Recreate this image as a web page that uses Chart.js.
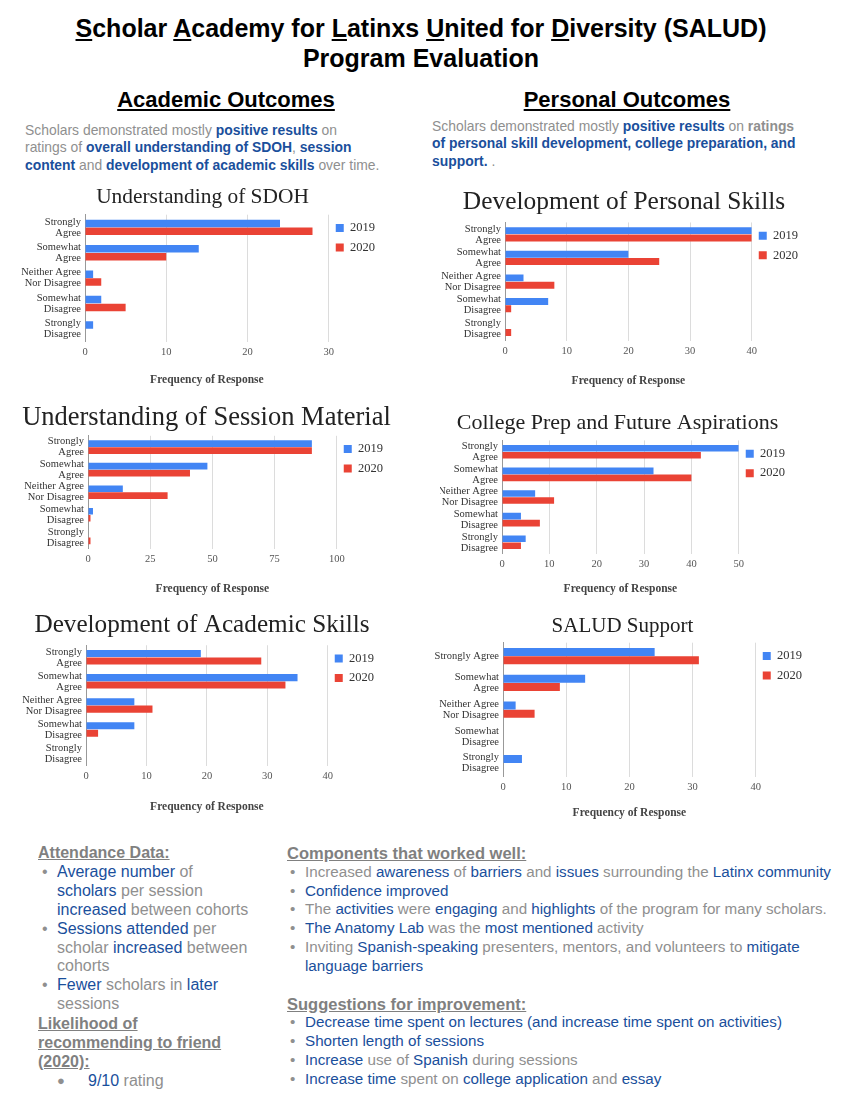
<!DOCTYPE html>
<html>
<head>
<meta charset="utf-8">
<script src="https://cdn.jsdelivr.net/npm/chart.js@4.4.1/dist/chart.umd.min.js"></script>
<style>
  body { margin: 0; background: #fff; }
  #page { position: relative; width: 850px; height: 1100px; overflow: hidden; font-family: "Liberation Sans", Arial, sans-serif; }
  .abs { position: absolute; }
  .b { color: #1a4f9c; }
  .g { color: #8f8f8f; }
  .bold { font-weight: bold; }
  canvas { position: absolute; }
  .head { font-weight: bold; text-decoration: underline; text-decoration-thickness: 2px; text-underline-offset: 2px; color: #000; }
  .sub { font-weight: bold; text-decoration: underline; color: #808080; }
  .dot { position: absolute; color: #8f8f8f; }
  .item { position: relative; padding-left: 18px; }
</style>
</head>
<body>
<div id="page">

  <div class="abs" style="left:-4px; top:13px; width:850px; text-align:center; font-size:25px; line-height:30px; font-weight:bold; color:#000;">
    <u>S</u>cholar <u>A</u>cademy for <u>L</u>atinxs <u>U</u>nited for <u>D</u>iversity (SALUD)<br>Program Evaluation
  </div>

  <div class="abs head" style="left:26px; top:87px; width:400px; text-align:center; font-size:22px; line-height:26px;">Academic Outcomes</div>
  <div class="abs head" style="left:427px; top:87px; width:400px; text-align:center; font-size:22px; line-height:26px;">Personal Outcomes</div>

  <div class="abs g" style="left:25px; top:122px; font-size:13.9px; line-height:17.3px;">
    Scholars demonstrated mostly <span class="b bold">positive results</span> on<br>
    ratings of <span class="b bold">overall understanding of SDOH</span>, <span class="b bold">session</span><br>
    <span class="b bold">content</span> and <span class="b bold">development of academic skills</span> over time.
  </div>
  <div class="abs g" style="left:432px; top:118px; font-size:13.9px; line-height:17.3px;">
    Scholars demonstrated mostly <span class="b bold">positive results</span> on <span class="bold">ratings</span><br>
    <span class="b bold">of personal skill development, college preparation, and</span><br>
    <span class="b bold">support.</span> .
  </div>

  <canvas id="c1" width="365" height="208" style="left:20px; top:183px;"></canvas>
  <canvas id="c2" width="368" height="207" style="left:440px; top:185px;"></canvas>
  <canvas id="c3" width="373" height="200" style="left:20px; top:400px;"></canvas>
  <canvas id="c4" width="355" height="192" style="left:440px; top:408px;"></canvas>
  <canvas id="c5" width="364" height="210" style="left:20px; top:608px;"></canvas>
  <canvas id="c6" width="379" height="212" style="left:433px; top:612px;"></canvas>

  <!-- attendance column -->
  <div class="abs g" style="left:38px; top:844px; font-size:16px; line-height:18.9px; width:245px;">
    <div class="sub">Attendance Data:</div>
    <div class="item" style="padding-left:19px;"><span class="dot b" style="left:4px;">•</span><span class="b">Average number</span> of<br><span class="b">scholars</span> per session<br><span class="b">increased</span> between cohorts</div>
    <div class="item" style="padding-left:19px;"><span class="dot" style="left:4px;">•</span><span class="b">Sessions attended</span> per<br>scholar <span class="b">increased</span> between<br>cohorts</div>
    <div class="item" style="padding-left:19px;"><span class="dot" style="left:4px;">•</span><span class="b">Fewer</span> scholars in <span class="b">later</span><br>sessions</div>
    <div class="sub" style="margin-top:1px;">Likelihood of<br>recommending to friend<br>(2020):</div>
    <div class="item" style="padding-left:50px;"><span class="dot" style="left:19px; font-size:13px;">●</span><span class="b">9/10</span> rating</div>
  </div>

  <!-- components column -->
  <div class="abs g" style="left:287px; top:844px; font-size:15.2px; line-height:18.8px; width:560px;">
    <div class="sub" style="font-size:16.5px;">Components that worked well:</div>
    <div class="item"><span class="dot" style="left:3px;">•</span>Increased <span class="b">awareness</span> of <span class="b">barriers</span> and <span class="b">issues</span> surrounding the <span class="b">Latinx community</span></div>
    <div class="item"><span class="dot" style="left:3px;">•</span><span class="b">Confidence improved</span></div>
    <div class="item"><span class="dot" style="left:3px;">•</span>The <span class="b">activities</span> were <span class="b">engaging</span> and <span class="b">highlights</span> of the program for many scholars.</div>
    <div class="item"><span class="dot" style="left:3px;">•</span><span class="b">The Anatomy Lab</span> was the <span class="b">most mentioned</span> activity</div>
    <div class="item"><span class="dot" style="left:3px;">•</span>Inviting <span class="b">Spanish-speaking</span> presenters, mentors, and volunteers to <span class="b">mitigate</span><br><span class="b">language barriers</span></div>
    <div class="sub" style="font-size:16.5px; margin-top:19px;">Suggestions for improvement:</div>
    <div class="item"><span class="dot" style="left:3px;">•</span><span class="b">Decrease time spent on lectures (and increase time spent on activities)</span></div>
    <div class="item"><span class="dot" style="left:3px;">•</span><span class="b">Shorten length of sessions</span></div>
    <div class="item"><span class="dot" style="left:3px;">•</span><span class="b">Increase</span> use of <span class="b">Spanish</span> during sessions</div>
    <div class="item"><span class="dot" style="left:3px;">•</span><span class="b">Increase time</span> spent on <span class="b">college application</span> and <span class="b">essay</span></div>
  </div>

</div>
<script>
// categories
const responseLabels = [["Strongly", "Agree"], ["Somewhat", "Agree"], ["Neither Agree", "Nor Disagree"], ["Somewhat", "Disagree"], ["Strongly", "Disagree"]];
const supportLabels = ["Strongly Agree", ["Somewhat", "Agree"], ["Neither Agree", "Nor Disagree"], ["Somewhat", "Disagree"], ["Strongly", "Disagree"]];
const years = ["2019", "2020"];

// frequency of response per chart
const sdoh2019 = [24, 14, 1, 2, 1];
const sdoh2020 = [28, 10, 2, 5, 0];
const personal2019 = [40, 20, 3, 7, 0];
const personal2020 = [40, 25, 8, 1, 1];
const session2019 = [90, 48, 14, 2, 0];
const session2020 = [90, 41, 32, 1, 1];
const college2019 = [50, 32, 7, 4, 5];
const college2020 = [42, 40, 11, 8, 4];
const academic2019 = [19, 35, 8, 8, 0];
const academic2020 = [29, 33, 11, 2, 0];
const support2019 = [24, 13, 2, 0, 3];
const support2020 = [31, 9, 5, 0, 0];

const serif = "'Liberation Serif', 'DejaVu Serif', serif";

// look: title size, gap under title, y label width, gap above axis title
function barChart(id, title, labels, a, b, xMax, xStep, look) {
    new Chart(document.getElementById(id),
    {
        type: 'bar',
        data:
        {
            labels: labels,
            datasets:
            [
                { label: years[0], data: a, backgroundColor: '#4285F4', borderWidth: 0, categoryPercentage: 0.62, barPercentage: 0.95 },
                { label: years[1], data: b, backgroundColor: '#EA4335', borderWidth: 0, categoryPercentage: 0.62, barPercentage: 0.95 }
            ]
        },
        options:
        {
            indexAxis: 'y',
            responsive: false,
            animation: false,
            layout: { padding: 0 },
            scales:
            {
                x:
                {
                    min: 0,
                    max: xMax,
                    ticks: { stepSize: xStep, font: { family: serif, size: 10.5 }, color: '#555', padding: 4 },
                    grid: { color: '#dcdcdc', drawTicks: false },
                    border: { display: false },
                    title: { display: true, text: 'Frequency of Response', font: { family: serif, size: 11.5, weight: 'bold' }, color: '#444', padding: { top: look.axisPad, bottom: 4 } }
                },
                y:
                {
                    grid: { display: false, drawTicks: false },
                    border: { display: true, color: '#999', width: 1 },
                    ticks: { autoSkip: false, font: { family: serif, size: 10.5, lineHeight: 1.05 }, color: '#333', padding: 4 },
                    afterFit: function (s) { s.width = look.yWidth; }
                }
            },
            plugins:
            {
                title: { display: true, text: title, font: { family: serif, size: look.titleSize, weight: 'normal' }, color: '#222', padding: { top: 2, bottom: look.titleGap } },
                legend:
                {
                    position: 'right',
                    align: 'start',
                    fullSize: false,
                    labels: { boxWidth: 8, boxHeight: 8, font: { family: serif, size: 12.5 }, color: '#333', padding: 7 }
                },
                tooltip: { enabled: false }
            }
        }
    });
}

barChart('c1', 'Understanding of SDOH', responseLabels, sdoh2019, sdoh2020, 30, 10, { titleSize: 21.4, titleGap: 4, yWidth: 65, axisPad: 11 });
barChart('c2', 'Development of Personal Skills', responseLabels, personal2019, personal2020, 40, 10, { titleSize: 25.4, titleGap: 5, yWidth: 65, axisPad: 13 });
barChart('c3', 'Understanding of Session Material', responseLabels, session2019, session2020, 100, 25, { titleSize: 26.5, titleGap: 2, yWidth: 68, axisPad: 13 });
barChart('c4', 'College Prep and Future Aspirations', responseLabels, college2019, college2020, 50, 10, { titleSize: 22, titleGap: 4, yWidth: 62, axisPad: 8 });
barChart('c5', 'Development of Academic Skills', responseLabels, academic2019, academic2020, 40, 10, { titleSize: 25.2, titleGap: 5, yWidth: 66, axisPad: 14 });
barChart('c6', 'SALUD Support', supportLabels, support2019, support2020, 40, 10, { titleSize: 21, titleGap: 3.5, yWidth: 70, axisPad: 9 });
</script>
</body>
</html>
